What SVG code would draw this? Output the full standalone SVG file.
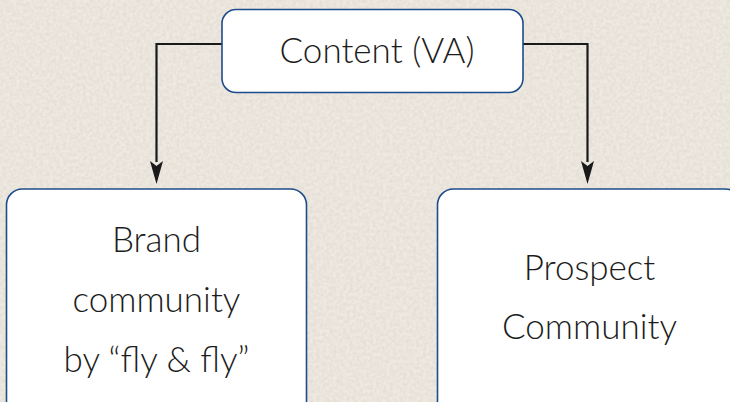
<svg xmlns="http://www.w3.org/2000/svg" width="730" height="402" viewBox="0 0 730 402">
  <defs>
    <style>
      .box { fill: #ffffff; stroke: #1d4c8c; stroke-width: 1.6; }
      .label { font-family: "Lato", "Open Sans", "Liberation Sans", sans-serif; font-weight: 300; font-size: 35px; fill: #1c1c1c; text-anchor: middle; }
      .wire { fill: none; stroke: #1a1a1a; stroke-width: 2.2; }
      .head { fill: #1a1a1a; }
    </style>
    <filter id="paper" x="0" y="0" width="100%" height="100%">
      <feTurbulence type="fractalNoise" baseFrequency="0.3" numOctaves="3" seed="7" result="noise"/>
      <feColorMatrix in="noise" type="matrix" values="0 0 0 0 0.55  0 0 0 0 0.5  0 0 0 0 0.42  0 0 0 1 -0.3" result="grain"/>
      <feComposite in="grain" in2="SourceGraphic" operator="in"/>
    </filter>
  </defs>

  <!-- paper background -->
  <rect width="730" height="402" fill="#eee9e1"/>
  <rect width="730" height="402" fill="#eee9e1" filter="url(#paper)" opacity="0.45"/>

  <!-- connectors: elbow lines from the top box down to each community -->
  <g id="connectors">
    <path class="wire" d="M222 44 H156.5 V162"/>
    <path class="head" d="M156.5 184 L150 161 L156.5 166 L163 161 Z"/>
    <path class="wire" d="M523 44 H587.5 V162"/>
    <path class="head" d="M587.5 184 L581 161 L587.5 166 L594 161 Z"/>
  </g>

  <g id="content-va">
    <rect class="box" x="222" y="9.5" width="301" height="83" rx="14"/>
    <text class="label" x="377" y="62.5">Content (VA)</text>
  </g>

  <g id="brand-community">
    <rect class="box" x="6.5" y="189" width="300" height="230" rx="16"/>
    <text class="label" x="156.5" y="252">Brand</text>
    <text class="label" x="156.5" y="312">community</text>
    <text class="label" x="156.5" y="372">by “fly &amp; fly”</text>
  </g>

  <g id="prospect-community">
    <rect class="box" x="437.5" y="189" width="304" height="230" rx="16"/>
    <text class="label" x="589.5" y="280">Prospect</text>
    <text class="label" x="589.5" y="339">Community</text>
  </g>
</svg>
